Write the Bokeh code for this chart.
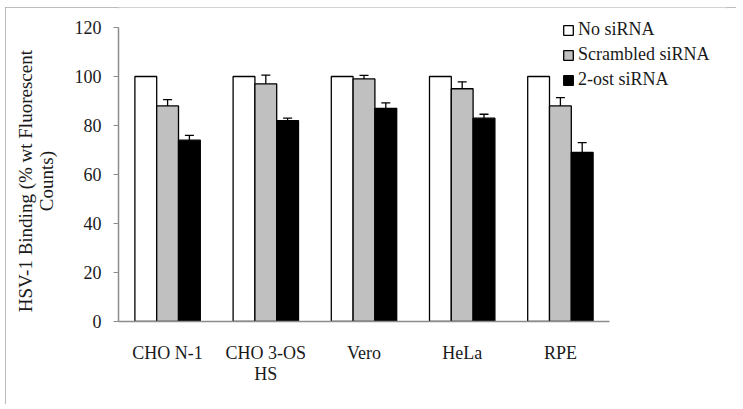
from bokeh.plotting import figure
from bokeh.models import ColumnDataSource, Whisker, Legend, LegendItem, FixedTicker
from bokeh.transform import dodge
from bokeh.embed import file_html
from bokeh.resources import INLINE

categories = ["CHO N-1", "CHO 3-OS\nHS", "Vero", "HeLa", "RPE"]
no_sirna = [100, 100, 100, 100, 100]
scrambled = [88, 97, 99, 95, 88]
scrambled_err = [2.6, 3.6, 1.5, 2.8, 3.4]
ost2 = [74, 82, 87, 83, 69]
ost2_err = [2.0, 1.0, 2.2, 1.6, 4.0]
series_names = ["No siRNA", "Scrambled siRNA", "2-ost siRNA"]
y_ticks = [0, 20, 40, 60, 80, 100, 120]
y_label_lines = ["HSV-1 Binding (% wt Fluorescent", "Counts)"]

FONT = "Liberation Serif"
TXT = "#1a1a1a"

centers = [i + 0.5 for i in range(len(categories))]

src = ColumnDataSource(dict(
    x=centers, a=no_sirna, b=scrambled, c=ost2,
    b_lo=[v - e for v, e in zip(scrambled, scrambled_err)],
    b_hi=[v + e for v, e in zip(scrambled, scrambled_err)],
    c_lo=[v - e for v, e in zip(ost2, ost2_err)],
    c_hi=[v + e for v, e in zip(ost2, ost2_err)],
))

W, H = 731, 397
ML, MR, MT, MB = 113, 10, 0, 83
frame_w = W - ML - MR
frame_h = H - MT - MB
px_per_cat = 98.2
px_per_unit = 2.45
x_end = frame_w / px_per_cat
y_end = frame_h / px_per_unit

p = figure(x_range=(0, x_end), y_range=(0, y_end),
           width=W, height=H, output_backend="svg", toolbar_location=None,
           min_border_left=ML, min_border_right=MR, min_border_top=MT, min_border_bottom=MB,
           margin=(7, 0, 0, 5))
p.styles = {"outline": "2px solid #a6a6a6", "outline-offset": "-2px"}
p.outline_line_color = None
p.xgrid.grid_line_color = None
p.ygrid.grid_line_color = None

w = 0.222
r1 = p.vbar(x=dodge("x", -w), top="a", width=w, source=src,
            fill_color="white", line_color="black", line_width=1.3)
r2 = p.vbar(x=dodge("x", 0), top="b", width=w, source=src,
            fill_color="#c0c0c0", line_color="black", line_width=1.3)
r3 = p.vbar(x=dodge("x", w), top="c", width=w, source=src,
            fill_color="black", line_color="black", line_width=1.3)

for base, lo, hi in [(0, "b_lo", "b_hi"), (w, "c_lo", "c_hi")]:
    wh = Whisker(base=dodge("x", base), lower=lo, upper=hi, source=src,
                 line_color="black", line_width=1.3)
    for head in (wh.upper_head, wh.lower_head):
        head.size = 9
        head.line_color = "black"
        head.line_width = 1.3
    p.add_layout(wh)

pad = "\u00a0" * 7  # shifts the centred label down to sit on the 0-120 span
p.yaxis.ticker = y_ticks
p.yaxis.bounds = (0, 120)
p.yaxis.axis_label = "\n".join(line + pad for line in y_label_lines)
p.yaxis.axis_label_text_font = FONT
p.yaxis.axis_label_text_font_style = "normal"
p.yaxis.axis_label_text_font_size = "19px"
p.yaxis.axis_label_text_line_height = 1.0
p.yaxis.axis_label_text_color = TXT
p.yaxis.axis_label_text_align = "center"
p.yaxis.axis_label_standoff = 15
p.yaxis.major_label_text_font = FONT
p.yaxis.major_label_text_font_size = "18px"
p.yaxis.major_label_text_color = TXT
p.yaxis.major_label_standoff = 12
p.yaxis.major_tick_out = 5
p.yaxis.major_tick_in = 0
p.yaxis.minor_tick_line_color = None
p.yaxis.axis_line_color = "#8c8c8c"
p.yaxis.major_tick_line_color = "#8c8c8c"
p.yaxis.axis_line_width = 1.5

p.xaxis.ticker = FixedTicker(ticks=centers)
p.xaxis.major_label_overrides = {c: lab for c, lab in zip(centers, categories)}
p.xaxis.bounds = (0, len(categories))
p.xaxis.major_label_text_font = FONT
p.xaxis.major_label_text_font_size = "18px"
p.xaxis.major_label_text_line_height = 1.05
p.xaxis.major_label_text_color = TXT
p.xaxis.major_label_standoff = 15
p.xaxis.major_tick_line_color = None
p.xaxis.minor_tick_line_color = None
p.xaxis.axis_line_color = "#8c8c8c"
p.xaxis.axis_line_width = 1.5

legend = Legend(items=[LegendItem(label=series_names[0], renderers=[r1]),
                       LegendItem(label=series_names[1], renderers=[r2]),
                       LegendItem(label=series_names[2], renderers=[r3])],
                location=(444, 231), orientation="vertical",
                glyph_width=12, glyph_height=12, label_height=20, spacing=4,
                padding=0, margin=0, label_standoff=4,
                label_text_font=FONT, label_text_font_size="18px",
                label_text_color=TXT, border_line_color=None,
                background_fill_alpha=0)
p.add_layout(legend, "center")

open("out.html", "w").write(file_html(p, INLINE))
